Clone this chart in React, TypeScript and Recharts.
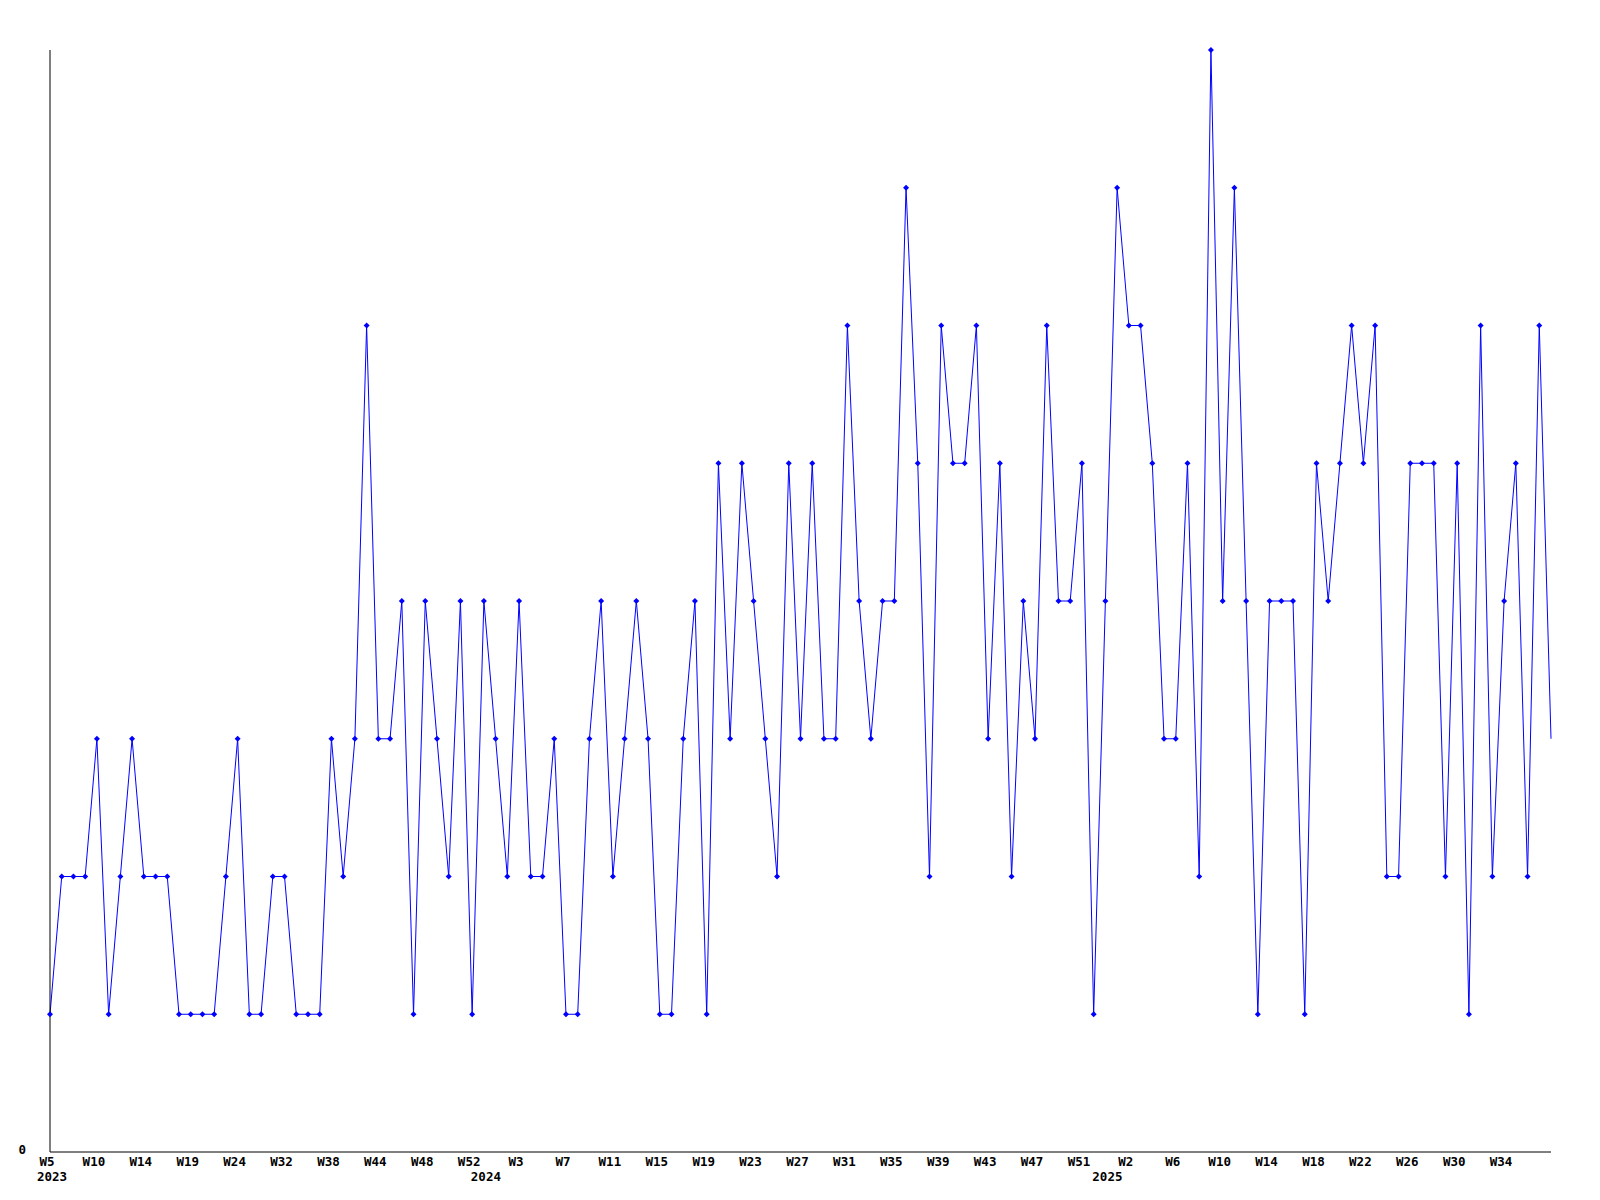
import { Line, LineChart, XAxis, YAxis } from "recharts"

// weekly values, one per point (129 points)
const counts = [
  1, 2, 2, 2, 3, 1, 2, 3, 2, 2, 2, 1, 1, 1, 1, 2, 3, 1, 1, 2,
  2, 1, 1, 1, 3, 2, 3, 6, 3, 3, 4, 1, 4, 3, 2, 4, 1, 4, 3, 2,
  4, 2, 2, 3, 1, 1, 3, 4, 2, 3, 4, 3, 1, 1, 3, 4, 1, 5, 3, 5,
  4, 3, 2, 5, 3, 5, 3, 3, 6, 4, 3, 4, 4, 7, 5, 2, 6, 5, 5, 6,
  3, 5, 2, 4, 3, 6, 4, 4, 5, 1, 4, 7, 6, 6, 5, 3, 3, 5, 2, 8,
  4, 7, 4, 1, 4, 4, 4, 1, 5, 4, 5, 6, 5, 6, 2, 2, 5, 5, 5, 2,
  5, 1, 6, 2, 4, 5, 2, 6, 3,
]

// week labels shown every 4th point
const weekLabels = [
  "W5", "W10", "W14", "W19", "W24", "W32", "W38", "W44", "W48", "W52",
  "W3", "W7", "W11", "W15", "W19", "W23", "W27", "W31", "W35", "W39",
  "W43", "W47", "W51", "W2", "W6", "W10", "W14", "W18", "W22", "W26",
  "W30", "W34",
]

// year labels and the point index they sit under
const years = ["2023", "2024", "2025"]
const yearIndex = [0, 37, 90]

const data = counts.map((v, i) => ({ i, v }))

const font = "'DejaVu Sans Mono', monospace"

function WeekTick(props: any) {
  const { x, y, payload } = props
  const idx = payload.value
  const yi = yearIndex.indexOf(idx)
  return (
    <g>
      {idx % 4 === 0 && weekLabels[idx / 4] ? (
        <text x={x - 3} y={y + 14} textAnchor="middle" fontFamily={font} fontWeight="bold" fontSize={12.5} fill="#000">
          {weekLabels[idx / 4]}
        </text>
      ) : null}
      {yi >= 0 ? (
        <text x={x + 2} y={y + 29} textAnchor="middle" fontFamily={font} fontWeight="bold" fontSize={12.5} fill="#000">
          {years[yi]}
        </text>
      ) : null}
    </g>
  )
}

function ZeroTick(props: any) {
  const { y, payload } = props
  return (
    <text x={26} y={y + 2} textAnchor="end" fontFamily={font} fontWeight="bold" fontSize={12.5} fill="#000">
      {payload.value}
    </text>
  )
}

function Marker(props: any) {
  const { cx, cy, index } = props
  if (index === counts.length - 1) return <g key={index} />
  return (
    <polygon
      key={index}
      points={`${cx},${cy - 3} ${cx + 3},${cy} ${cx},${cy + 3} ${cx - 3},${cy}`}
      fill="#0000ff"
      stroke="none"
    />
  )
}

export default function App() {
  return (
    <div style={{ position: "absolute", left: 0, top: 0, width: 1600, height: 1200, background: "#fff" }}>
      <LineChart width={1600} height={1200} data={data} margin={{ top: 50, right: 49, left: 0, bottom: 0 }}>
        <XAxis
          dataKey="i"
          interval={0}
          height={48}
          tickLine={false}
          tickSize={0}
          tickMargin={0}
          stroke="#000"
          tick={<WeekTick />}
        />
        <YAxis
          domain={[0, 8]}
          ticks={[0]}
          width={50}
          tickLine={false}
          tickSize={0}
          tickMargin={0}
          stroke="#000"
          tick={<ZeroTick />}
        />
        <Line
          type="linear"
          dataKey="v"
          stroke="#0000ff"
          strokeWidth={1}
          dot={<Marker />}
          activeDot={false}
          isAnimationActive={false}
        />
      </LineChart>
    </div>
  )
}
